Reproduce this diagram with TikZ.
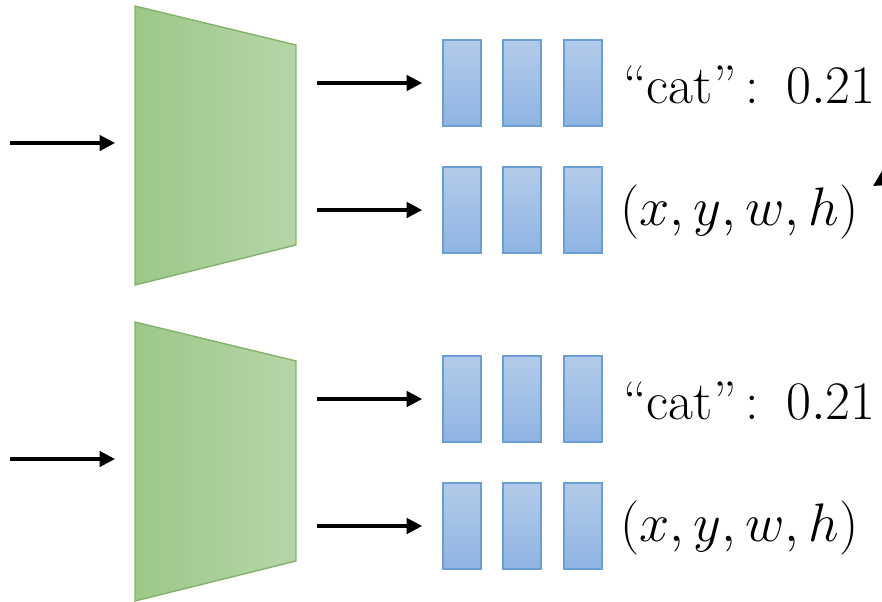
\documentclass[tikz,border=0pt]{standalone}
\usepackage{xcolor}
\usepackage{tikz}
\usetikzlibrary{arrows.meta, positioning}
\definecolor{netleft}{RGB}{157,200,137}
\definecolor{netright}{RGB}{182,213,168}
\definecolor{netedge}{RGB}{130,179,102}
\definecolor{feattop}{RGB}{179,203,233}
\definecolor{featbot}{RGB}{143,180,227}
\definecolor{featedge}{RGB}{108,158,214}

\begin{document}
\begin{tikzpicture}[x=0.025cm, y=-0.025cm,
  net/.style={draw=netedge, line width=1pt, left color=netleft, right color=netright},
  feat/.style={rectangle, draw=featedge, line width=1.2pt, top color=feattop, bottom color=featbot,
               minimum width=0.95cm, minimum height=2.15cm, inner sep=0pt},
  arrow/.style={-{Triangle[length=11pt, width=11pt]}, line width=2.2pt},
  lbl/.style={font=\fontsize{24.88}{30}\selectfont, scale=1.55, anchor=west, inner sep=0pt}
]
\useasboundingbox (0,0) rectangle (882,601);

% two detection heads
\foreach \n/\yo in {1/0, 2/316} {
  \draw[net] (135,6+\yo) -- (296,45+\yo) -- (296,245+\yo) -- (135,285+\yo) -- cycle;
  \coordinate (in\n)  at (10,143+\yo);
  \coordinate (net\n) at (115,143+\yo);
  \draw[arrow] (in\n) -- (net\n);
}

% feature columns, one row per output
\foreach \r/\yy in {a/83, b/210, c/399, d/526} {
  \node[feat] (\r1) at (462,\yy) {};
  \node[feat] (\r2) at (522,\yy) {};
  \node[feat] (\r3) at (583,\yy) {};
  \coordinate (out\r) at (317,\yy);
  \draw[arrow, shorten >=0.5cm] (out\r) -- (\r1);
}

\node[lbl] (clsa) at (623,85)  {``cat''\,:\hspace{0.5em}$0.21$};
\node[lbl] (boxb) at (620,212) {$(x,y,w,h)$};
\node[lbl] (clsc) at (623,401) {``cat''\,:\hspace{0.5em}$0.21$};
\node[lbl] (boxd) at (620,528) {$(x,y,w,h)$};

% connector leaving the picture
\coordinate (far) at (959,134);
\coordinate (tip) at (873,186);
\draw[arrow] (far) -- (tip);
\end{tikzpicture}
\end{document}
